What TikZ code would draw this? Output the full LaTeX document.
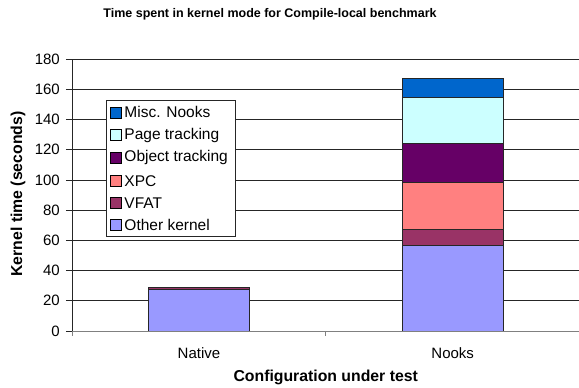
\documentclass[tikz,border=0pt]{standalone}
\usepackage{fontspec}
\setmainfont{Liberation Sans}
\usetikzlibrary{positioning}
\definecolor{miscnooks}{HTML}{0066CC}
\definecolor{pagetrack}{HTML}{CCFFFF}
\definecolor{objtrack}{HTML}{660066}
\definecolor{xpc}{HTML}{FF8080}
\definecolor{vfat}{HTML}{993366}
\definecolor{otherk}{HTML}{9999FF}
\tikzset{
  gridline/.style={black!85, line width=0.7pt},
  seg/.style={draw=black!85, line width=0.6pt},
  ticklbl/.style={font=\fontsize{15}{18}\selectfont, anchor=east, inner sep=0pt},
  axtitle/.style={font=\fontsize{15.8}{19}\selectfont\bfseries, inner sep=0pt},
  swatch/.style={draw=black, line width=0.5pt, minimum size=11pt, inner sep=0pt},
  lgtext/.style={font=\fontsize{15.5}{18}\selectfont, anchor=west, inner sep=0pt},
}
\begin{document}
\begin{tikzpicture}[x=1pt,y=1pt]
\useasboundingbox (-72,-57) rectangle (507,331);
\begin{scope}[y=1.511pt]
\foreach \v in {20,40,...,180} \draw[gridline] (0,\v) -- (507,\v);
\foreach \v in {0,20,...,180} {
  \draw[black!85, line width=0.7pt] (-6,\v) -- (0,\v);
  \node[ticklbl] at (-12,\v) {\v};
}
% native
\draw[seg, fill=otherk] (76,0) rectangle (177,27.8);
\draw[seg, fill=vfat] (76,27.8) rectangle (177,29);
% nooks
\foreach \lo/\hi/\c in {0/56.4/otherk, 56.4/67.3/vfat, 67.3/98.2/xpc, 98.2/124.2/objtrack, 124.2/154.9/pagetrack, 154.9/167.2/miscnooks}
  \draw[seg, fill=\c] (330.3,\lo) rectangle (431.3,\hi);
\end{scope}
\draw[black!85, line width=0.7pt] (0,0) -- (0,272);
\draw[gray, line width=0.7pt] (0,0) -- (507,0);
\foreach \x in {0,253.7,507} \draw[gray, line width=0.7pt] (\x,0) -- (\x,-5);
\node[ticklbl, anchor=center] (native) at (127,-22) {Native};
\node[ticklbl, anchor=center] (nooks) at (380.7,-22) {Nooks};
\node[axtitle] (xtitle) at (253.7,-46.7) {Configuration under test};
\node[axtitle, rotate=90] (ytitle) at (-54,137) {Kernel time (seconds)};
\node[font=\fontsize{12.5}{15}\selectfont\bfseries, inner sep=0pt] (title) at (198,317) {Time spent in kernel mode for Compile-local benchmark};
% legend
\draw[fill=white, draw=black!85, line width=0.6pt] (34,95) rectangle (163.3,230.3);
\foreach \y/\c/\t [count=\i] in {218.7/miscnooks/Misc. Nooks, 196/pagetrack/Page tracking, 173.7/objtrack/Object tracking, 150.3/xpc/XPC, 128.3/vfat/VFAT, 106/otherk/Other kernel} {
  \node[swatch, fill=\c] (sw\i) at (43.5,\y) {};
  \node[lgtext, right=3pt of sw\i] (lg\i) {\t};
}
\end{tikzpicture}
\end{document}
